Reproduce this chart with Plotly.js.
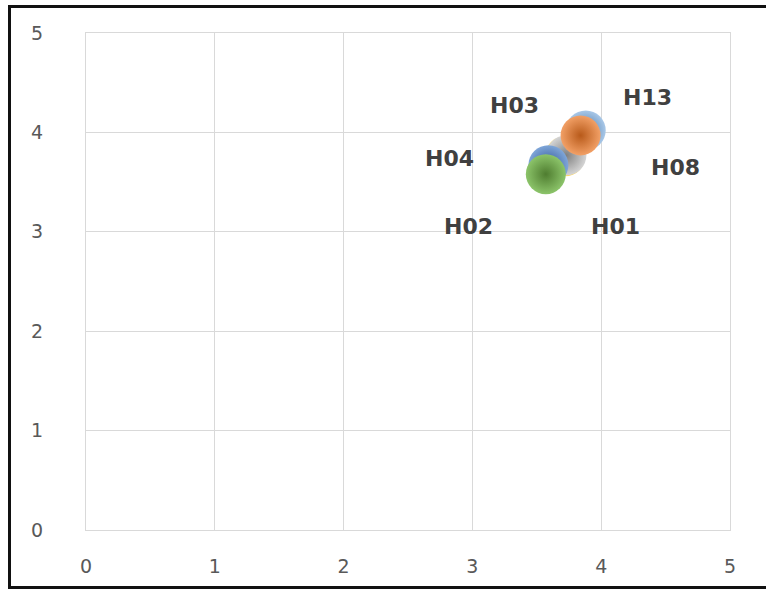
<!DOCTYPE html>
<html>
<head>
<meta charset="utf-8">
<script src="https://cdn.plot.ly/plotly-3.0.1.min.js"></script>
<style>
  html, body { margin: 0; padding: 0; background: #fff; }
  #wrap { position: relative; width: 766px; height: 594px; }
  #chart { width: 766px; height: 594px; }
  #frame { position: absolute; left: 8px; top: 5px; width: 758px; height: 584px;
           border-left: 3px solid #111; border-top: 3px solid #111; border-bottom: 3px solid #111;
           pointer-events: none; box-sizing: border-box; }
</style>
</head>
<body>
<div id="wrap">
  <div id="chart"></div>
  <div id="frame"></div>
</div>
<script>
// Data (drawing order: back to front)
const names  = ["H13", "H01", "H08", "H03", "H04", "H02"];
const xVals  = [3.88, 3.72, 3.73, 3.84, 3.59, 3.57];
const yVals  = [4.02, 3.76, 3.77, 3.97, 3.67, 3.58];
const sizes  = [1, 1, 1, 1, 1, 1];
const xTicks = [0, 1, 2, 3, 4, 5];
const yTicks = [0, 1, 2, 3, 4, 5];

// Styles
const centerColors = ["#a9c8e8", "#ffd966", "#d5d5d5", "#f2a066", "#7fa6d8", "#8cc46a"];
const edgeColors   = ["#4a78a8", "#bf9000", "#808080", "#b85a1a", "#2f5597", "#4f7d30"];
const labelShift   = [[62, 33], [50, -70], [109, -12], [-66, 30], [-99, 7], [-77, -52]];

const trace = {
  type: "scatter",
  mode: "markers",
  x: xVals,
  y: yVals,
  text: names,
  hoverinfo: "text",
  marker: {
    size: sizes.map(s => s * 40),
    sizemode: "diameter",
    color: centerColors,
    opacity: 1,
    line: { width: 0 },
    gradient: { type: "radial", color: edgeColors }
  },
  showlegend: false
};

const annotations = names.map((n, i) => ({
  x: xVals[i], y: yVals[i], xref: "x", yref: "y",
  text: n, showarrow: false,
  xshift: labelShift[i][0], yshift: labelShift[i][1],
  font: { family: "DejaVu Sans", size: 22, color: "#404040", weight: "bold" }
}));

const axisCommon = {
  range: [0, 5],
  showgrid: true,
  gridcolor: "#d9d9d9",
  gridwidth: 1,
  zeroline: false,
  showline: true,
  mirror: true,
  linecolor: "#d9d9d9",
  linewidth: 1,
  ticks: "",
  tickfont: { family: "DejaVu Sans", size: 19, color: "#595959" },
  fixedrange: true
};

const layout = {
  width: 766,
  height: 594,
  margin: { l: 86, r: 36, t: 33, b: 64 },
  paper_bgcolor: "#ffffff",
  plot_bgcolor: "#ffffff",
  xaxis: Object.assign({}, axisCommon, { tickvals: xTicks, ticktext: xTicks.map(String), ticklabelstandoff: 19 }),
  yaxis: Object.assign({}, axisCommon, { tickvals: yTicks, ticktext: yTicks.map(String), ticklabelstandoff: 38 }),
  annotations: annotations,
  showlegend: false
};

Plotly.newPlot("chart", [trace], layout, { displayModeBar: false, staticPlot: true });
</script>
</body>
</html>
